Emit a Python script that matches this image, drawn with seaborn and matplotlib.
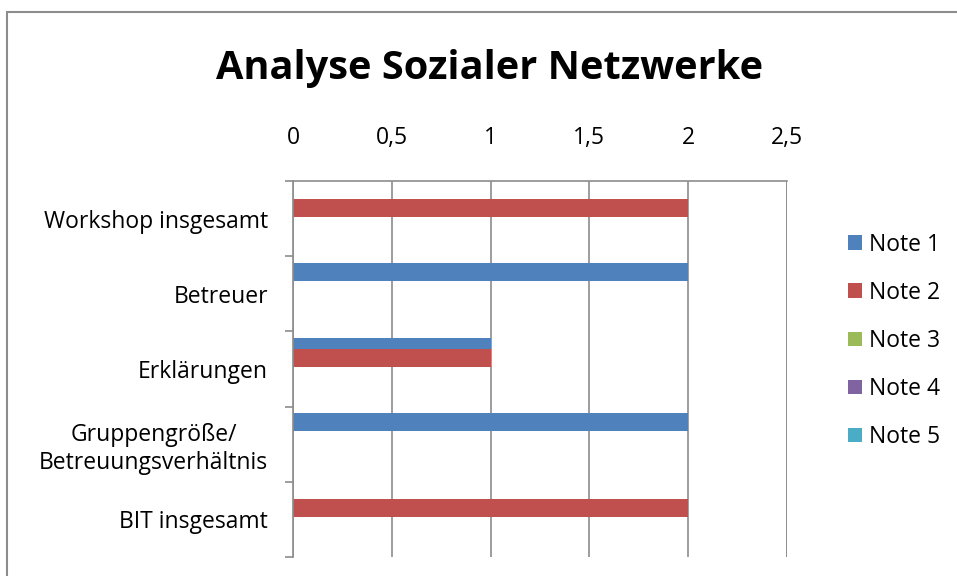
import pandas as pd
import matplotlib
matplotlib.use("Agg")
import matplotlib.pyplot as plt
from matplotlib.patches import Rectangle
import seaborn as sns

categories = ["Workshop insgesamt", "Betreuer", "Erklärungen",
              "Gruppengröße/\nBetreuungsverhältnis", "BIT insgesamt"]
notes = ["Note 1", "Note 2", "Note 3", "Note 4", "Note 5"]
note_1 = [0, 2, 1, 2, 0]
note_2 = [2, 0, 1, 0, 2]
note_3 = [0, 0, 0, 0, 0]
note_4 = [0, 0, 0, 0, 0]
note_5 = [0, 0, 0, 0, 0]
x_ticks = [0, 0.5, 1, 1.5, 2, 2.5]
x_tick_labels = ["0", "0,5", "1", "1,5", "2", "2,5"]

colors = ["#4F81BD", "#C0504D", "#9BBB59", "#8064A2", "#4BACC6"]
grid_color = "#8c8c8c"
fs = 16.5

rows = []
for note, values in zip(notes, [note_1, note_2, note_3, note_4, note_5]):
    for cat, v in zip(categories, values):
        rows.append({"Kategorie": cat, "Note": note, "Wert": v})
df = pd.DataFrame(rows)

sns.set_style("white")
plt.rcParams["font.family"] = ["Open Sans", "DejaVu Sans"]
plt.rcParams["text.color"] = "black"
plt.rcParams["xtick.color"] = "black"
plt.rcParams["ytick.color"] = "black"

fig = plt.figure(figsize=(9.57, 5.76), dpi=100)
ax = fig.add_axes([293 / 957, 1 - 557 / 576, 494 / 957, 376 / 576])

sns.barplot(data=df, y="Kategorie", x="Wert", hue="Note", orient="h",
            palette=colors, width=0.733, errorbar=None, saturation=1,
            linewidth=0, ax=ax)

# Excel-Stil: Balken überlappen sich leicht
for p in ax.patches:
    c = p.get_y() + p.get_height() / 2
    p.set_height(0.24)
    p.set_y(c - 0.12)

ax.set_xlim(0, 2.5)
ax.set_ylim(4.5, -0.5)
ax.set_xticks(x_ticks)
ax.set_xticklabels(x_tick_labels, fontsize=fs)
ax.xaxis.tick_top()
ax.tick_params(axis="x", length=0, pad=22)
ax.set_yticks(range(len(categories)))
ax.set_yticklabels(categories, fontsize=fs, multialignment="center")
ax.set_yticks([i - 0.5 for i in range(len(categories) + 1)], minor=True)
ax.tick_params(axis="y", which="major", length=0, pad=18)
ax.tick_params(axis="y", which="minor", length=6, width=1.2, color=grid_color,
               direction="out", left=True)
ax.set_xlabel("")
ax.set_ylabel("")
ax.grid(axis="x", color=grid_color, linewidth=1.2)
ax.set_axisbelow(True)
for side in ["right", "bottom"]:
    ax.spines[side].set_visible(False)
for side in ["top", "left"]:
    ax.spines[side].set_color(grid_color)
    ax.spines[side].set_linewidth(1.2)
ax.axvline(2.5, color=grid_color, linewidth=1.2, zorder=0)

handles, labels = ax.get_legend_handles_labels()
ax.get_legend().remove()
fig.legend(handles, labels, loc="center left",
           bbox_to_anchor=(827 / 957, 1 - 341 / 576), frameon=False,
           fontsize=fs, handlelength=0.62, handleheight=0.62,
           handletextpad=0.3, labelspacing=1.05)

fig.text(490 / 957, 1 - 68 / 576, "Analyse Sozialer Netzwerke",
         ha="center", va="center", fontsize=28.6, fontweight="bold")

fig.patches.append(Rectangle((7 / 957, -0.1), 1.2, 1.1 - 12 / 576,
                             transform=fig.transFigure, fill=False,
                             edgecolor="#8c8c8c", linewidth=1.5))

fig.savefig("out.png", dpi=100)
plt.close(fig)
